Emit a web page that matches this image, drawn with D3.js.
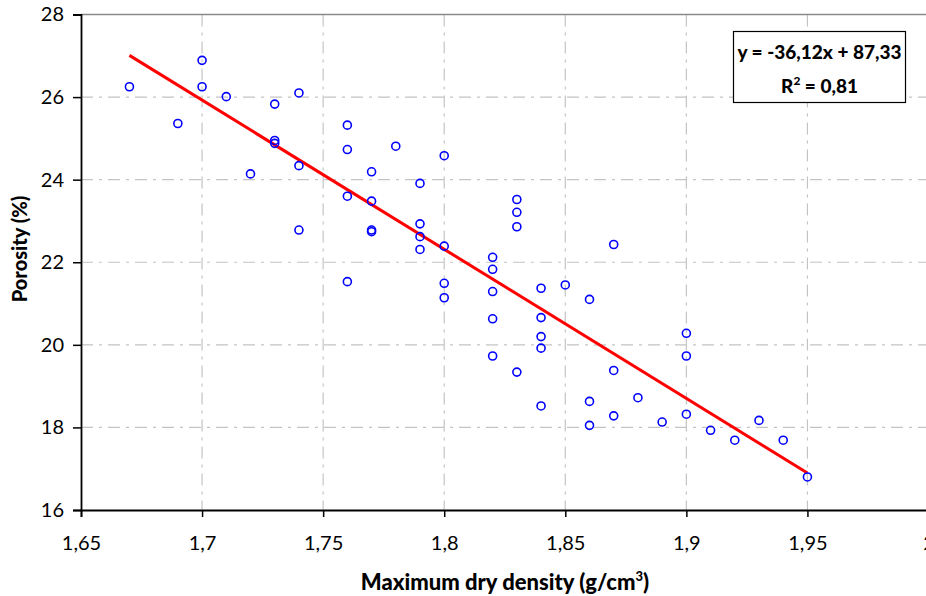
<!DOCTYPE html>
<html><head><meta charset="utf-8">
<script src="https://cdn.jsdelivr.net/npm/d3@7"></script>
<style>
html,body{margin:0;padding:0;background:#fff;overflow:hidden;}
svg{display:block;}
text{font-family:Lato,"Open Sans",sans-serif;}
</style></head>
<body>
<svg id="chart" width="926" height="596"></svg>
<script>
const densities = [1.67,1.69,1.70,1.70,1.71,1.72,1.73,1.73,1.73,1.74,1.74,1.74,
  1.76,1.76,1.76,1.76,1.77,1.77,1.77,1.77,1.78,1.79,1.79,1.79,1.79,
  1.80,1.80,1.80,1.80,1.82,1.82,1.82,1.82,1.82,1.83,1.83,1.83,1.83,
  1.84,1.84,1.84,1.84,1.84,1.85,1.86,1.86,1.86,1.87,1.87,1.87,1.88,1.89,
  1.90,1.90,1.90,1.91,1.92,1.93,1.94,1.95];
const porosities = [26.25,25.36,26.89,26.25,26.01,24.14,25.83,24.95,24.88,26.10,24.34,22.78,
  25.32,24.73,23.60,21.53,24.19,23.48,22.78,22.74,24.81,23.91,22.93,22.62,22.31,
  24.58,22.39,21.49,21.14,22.12,21.83,21.29,20.63,19.73,23.52,23.21,22.86,19.34,
  21.37,20.66,20.20,19.92,18.52,21.45,21.10,18.63,18.05,22.43,19.38,18.28,18.72,18.13,
  20.28,19.73,18.32,17.93,17.69,18.17,17.69,16.80];
const xTicks = [1.65,1.70,1.75,1.80,1.85,1.90,1.95,2.00];
const yTicks = [16,18,20,22,24,26,28];
const trendSlope = -36.12, trendIntercept = 87.33;
const trendRange = [1.67, 1.95];
const equationLines = ["y = -36,12x + 87,33", "R2 = 0,81"];
const xTitle = "Maximum dry density (g/cm";
const yTitle = "Porosity (%)";

const svg = d3.select("#chart");
const L = 81, R = 928.5, T = 14.5, B = 510;
const x = d3.scaleLinear().domain([1.65, 2.0]).range([L, R]);
const y = d3.scaleLinear().domain([16, 28]).range([B, T]);
const fmt = v => String(+v.toFixed(2)).replace(".", ",");

// gridlines
const grid = svg.append("g").attr("stroke", "#c4c4c4").attr("stroke-width", 1.2)
  .attr("stroke-dasharray", "12,6,3,6");
grid.selectAll("line.h").data(yTicks.filter(d => d > 16 && d < 28)).join("line")
  .attr("x1", L).attr("x2", R).attr("y1", d => y(d)).attr("y2", d => y(d));
grid.selectAll("line.v").data(xTicks.filter(d => d > 1.65)).join("line")
  .attr("y1", T).attr("y2", B).attr("x1", d => x(d)).attr("x2", d => x(d));
// top border
svg.append("line").attr("x1", L).attr("x2", R).attr("y1", T).attr("y2", T)
  .attr("stroke", "#8a8a8a").attr("stroke-width", 1.5);

// axes
const xAxis = svg.append("g").attr("transform", `translate(0,${B})`)
  .call(d3.axisBottom(x).tickValues(xTicks).tickFormat(fmt).tickSize(7).tickPadding(19));
const yAxis = svg.append("g").attr("transform", `translate(${L},0)`)
  .call(d3.axisLeft(y).tickValues(yTicks).tickFormat(fmt).tickSize(8).tickPadding(9));
[xAxis, yAxis].forEach(a => {
  a.select(".domain").attr("stroke", "#000").attr("stroke-width", 1.8);
  a.selectAll(".tick line").attr("stroke", "#000").attr("stroke-width", 1.5);
  a.selectAll(".tick text").attr("font-size", 20).attr("fill", "#000")
    .style("font-family", "Lato, sans-serif");
});

// trendline
svg.append("line")
  .attr("x1", x(trendRange[0])).attr("y1", y(trendSlope * trendRange[0] + trendIntercept))
  .attr("x2", x(trendRange[1])).attr("y2", y(trendSlope * trendRange[1] + trendIntercept))
  .attr("stroke", "#ff0000").attr("stroke-width", 3);

// points
svg.append("g").selectAll("circle").data(densities).join("circle")
  .attr("cx", d => x(d)).attr("cy", (d, i) => y(porosities[i])).attr("r", 4)
  .attr("fill", "none").attr("stroke", "#0000ff").attr("stroke-width", 1.6);

// equation box
const bx = 733.5, by = 31.5, bw = 172, bh = 71;
svg.append("rect").attr("x", bx).attr("y", by).attr("width", bw).attr("height", bh)
  .attr("fill", "#fff").attr("stroke", "#000").attr("stroke-width", 1.2);
svg.append("text").attr("x", bx + bw / 2).attr("y", 59).attr("text-anchor", "middle")
  .attr("font-size", 19).attr("font-weight", "900").text(equationLines[0]);
const r2 = svg.append("text").attr("x", bx + bw / 2).attr("y", 93).attr("text-anchor", "middle")
  .attr("font-size", 19).attr("font-weight", "900");
r2.append("tspan").text("R");
r2.append("tspan").attr("dy", -8).attr("font-size", 12).text("2");
r2.append("tspan").attr("dy", 8).text(" = 0,81");

// axis titles
const xt = svg.append("text").attr("x", 505).attr("y", 590).attr("text-anchor", "middle")
  .attr("font-size", 22).attr("font-weight", "900");
xt.append("tspan").text(xTitle);
xt.append("tspan").attr("dy", -9).attr("font-size", 13).text("3");
xt.append("tspan").attr("dy", 9).text(")");
svg.append("text").attr("transform", "translate(27,249) rotate(-90)").attr("text-anchor", "middle")
  .attr("font-size", 20).attr("font-weight", "900").text(yTitle);
</script>
</body></html>
